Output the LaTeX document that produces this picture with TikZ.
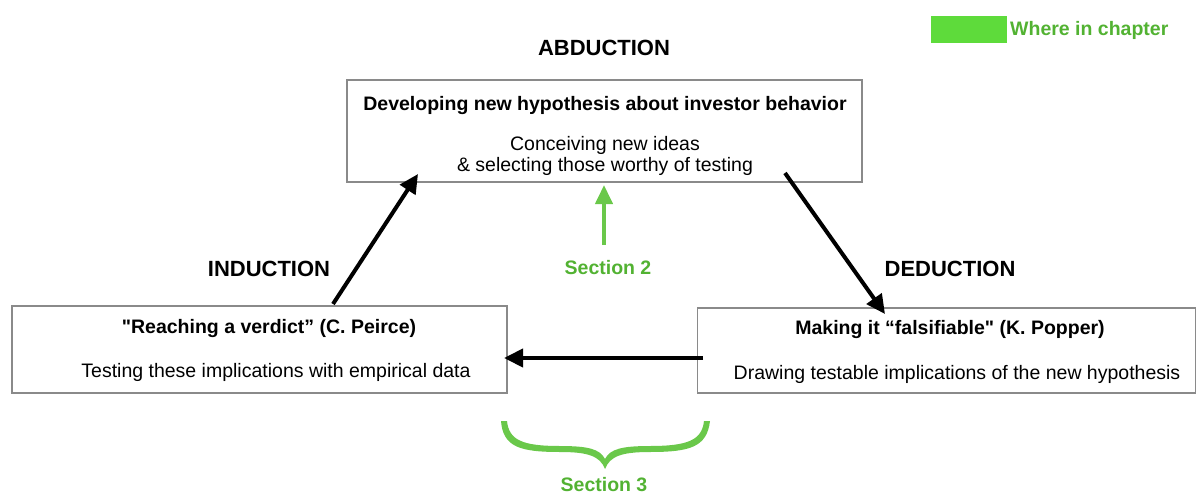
\documentclass[tikz,border=0pt]{standalone}
\usepackage{fontspec}
\setmainfont{Liberation Sans}
\usetikzlibrary{arrows.meta}
\newcommand{\straightq}{\XeTeXglyph\XeTeXcharglyph"0022\relax}
\definecolor{boxgray}{HTML}{8A8A8A}
\definecolor{legendgreen}{HTML}{5EDB3B}
\definecolor{textgreen}{HTML}{52B232}
\definecolor{bracegreen}{HTML}{6AC84A}
\tikzset{
  box/.style={draw=boxgray, line width=1.3pt, inner sep=0pt},
  heading/.style={font=\fontsize{22}{26}\selectfont\bfseries, inner sep=0pt},
  title/.style={font=\fontsize{19.5}{23}\selectfont\bfseries, inner sep=0pt},
  body/.style={font=\fontsize{19.5}{23}\selectfont, inner sep=0pt},
  greentext/.style={font=\fontsize{19.5}{23}\selectfont\bfseries, text=textgreen, inner sep=0pt},
  flow/.style={line width=4pt, -{Triangle[length=19pt,width=18pt]}},
}
\begin{document}
\begin{tikzpicture}[x=1pt,y=-1pt]
\useasboundingbox (0,0) rectangle (1197,495);
% boxes
\node[box, minimum width=515pt, minimum height=102pt] (top) at (604.5,131) {};
\node[box, minimum width=495pt, minimum height=87pt] (left) at (259.5,349.5) {};
\node[box, minimum width=498pt, minimum height=85pt] (right) at (946.5,350.5) {};
% headings
\node[heading] (abd) at (604,48) {ABDUCTION};
\node[heading] (ind) at (269,269) {INDUCTION};
\node[heading] (ded) at (950,269) {DEDUCTION};
% box texts
\node[title] (toptitle) at (605,106) {Developing new hypothesis about investor behavior};
\node[body] (topl1) at (605,145) {Conceiving new ideas};
\node[body] (topl2) at (605,166) {\& selecting those worthy of testing};
\node[title] (lefttitle) at (269,328) {\straightq Reaching a verdict” (C. Peirce)};
\node[body] (leftbody) at (276,372) {Testing these implications with empirical data};
\node[title] (righttitle) at (950,329) {Making it “falsifiable\straightq{} (K. Popper)};
\node[body] (rightbody) at (957,374) {Drawing testable implications of the new hypothesis};
% black arrows
\coordinate (i1) at (333,304);
\coordinate (i2) at (418,174);
\coordinate (d1) at (785,173);
\coordinate (d2) at (885,314);
\coordinate (h1) at (703,358);
\coordinate (h2) at (504,358);
\draw[flow] (i1) -- (i2);
\draw[flow] (d1) -- (d2);
\draw[flow] (h1) -- (h2);
% section 2
\coordinate (s2a) at (604,245);
\coordinate (s2b) at (604,185);
\draw[line width=4pt, draw=bracegreen, -{Triangle[length=19pt,width=17pt]}] (s2a) -- (s2b);
\node[greentext] (sec2) at (608,268) {Section 2};
% brace
\fill[bracegreen] (501,421) .. controls (503,447) and (520,452) .. (560,452)
  .. controls (588,452) and (600,456) .. (605,469)
  .. controls (610,456) and (622,452) .. (650,452)
  .. controls (690,452) and (707,447) .. (710,421)
  -- (704,421) .. controls (702,440) and (688,446) .. (650,446)
  .. controls (622,446) and (610,449) .. (605,459)
  .. controls (600,449) and (588,446) .. (560,446)
  .. controls (522,446) and (509,440) .. (507,421) -- cycle;
\node[greentext] (sec3) at (604,485) {Section 3};
% legend
\node[fill=legendgreen, minimum width=76pt, minimum height=27pt, inner sep=0pt] (leg) at (968.5,29.5) {};
\node[greentext, anchor=west] (legtext) at (1010,30) {Where in chapter};
\end{tikzpicture}
\end{document}
